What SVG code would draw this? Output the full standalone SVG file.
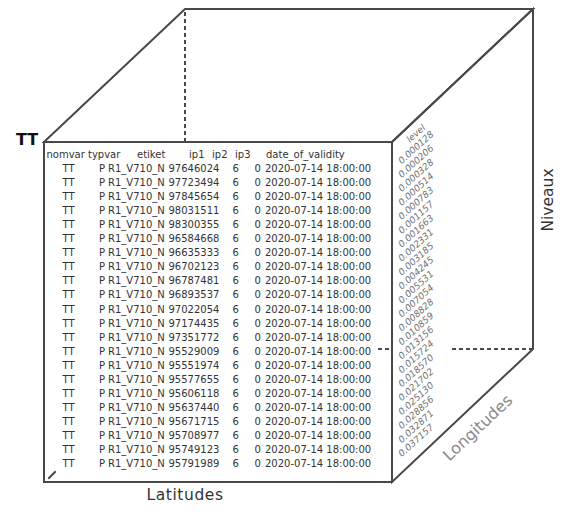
<svg xmlns="http://www.w3.org/2000/svg" width="576" height="515" viewBox="0 0 576 515">
<style>
.edge{fill:none;stroke:#484848;stroke-width:2;stroke-linecap:square}
.hid{fill:none;stroke:#484848;stroke-width:2;stroke-dasharray:4 3}
.tb{font-family:"DejaVu Sans",Verdana,sans-serif;font-size:10px;fill:#333}
.lv{font-family:"DejaVu Sans",Verdana,sans-serif;font-size:9.2px;font-style:italic;fill:#707070;text-anchor:middle}
.lab{font-family:"DejaVu Sans",Verdana,sans-serif}
</style>
<rect width="576" height="515" fill="#fff"/>
<g id="connectors">
<line class="hid" x1="185" y1="12" x2="185" y2="141"/>
<line class="hid" x1="378" y1="349" x2="391" y2="349"/>
<line class="hid" x1="452" y1="349" x2="532" y2="349"/>
<line class="edge" x1="49" y1="478" x2="55" y2="472"/>
</g>
<g id="cube">
<polygon points="44,142 185,9 533,9 392,142" fill="#fff" class="edge"/>
<polygon points="392,142 533,9 533,349 392,482" fill="none" class="edge"/>
<rect x="44" y="142" width="348" height="340" fill="none" class="edge"/>
</g>
<g id="label-tt"><text class="lab" x="16" y="145" style="font-size:16px;font-weight:bold;fill:#111">TT</text></g>
<g id="label-latitudes"><text class="lab" x="146.5" y="499.5" style="font-size:15.5px;fill:#333" textLength="76.5">Latitudes</text></g>
<g id="label-niveaux"><text class="lab" transform="translate(553,200) rotate(-90)" x="0" y="0" style="font-size:15.5px;fill:#333;text-anchor:middle">Niveaux</text></g>
<g id="label-longitudes"><text class="lab" transform="translate(478,428) rotate(-43)" x="0" y="5" style="font-size:16px;fill:#8a8a8a;text-anchor:middle">Longitudes</text></g>
<g id="table" class="tb">
<text y="158"><tspan x="46.5">nomvar</tspan><tspan x="88">typvar</tspan><tspan x="137">etiket</tspan><tspan x="189">ip1</tspan><tspan x="212">ip2</tspan><tspan x="235">ip3</tspan><tspan x="266">date_of_validity</tspan></text>
<text y="172"><tspan x="62.5">TT</tspan><tspan x="99">P</tspan><tspan x="108">R1_V710_N</tspan><tspan x="168.5">97646024</tspan><tspan x="232.5">6</tspan><tspan x="254.5">0</tspan><tspan x="265">2020-07-14 18:00:00</tspan></text>
<text y="186.05"><tspan x="62.5">TT</tspan><tspan x="99">P</tspan><tspan x="108">R1_V710_N</tspan><tspan x="168.5">97723494</tspan><tspan x="232.5">6</tspan><tspan x="254.5">0</tspan><tspan x="265">2020-07-14 18:00:00</tspan></text>
<text y="200.1"><tspan x="62.5">TT</tspan><tspan x="99">P</tspan><tspan x="108">R1_V710_N</tspan><tspan x="168.5">97845654</tspan><tspan x="232.5">6</tspan><tspan x="254.5">0</tspan><tspan x="265">2020-07-14 18:00:00</tspan></text>
<text y="214.15"><tspan x="62.5">TT</tspan><tspan x="99">P</tspan><tspan x="108">R1_V710_N</tspan><tspan x="168.5">98031511</tspan><tspan x="232.5">6</tspan><tspan x="254.5">0</tspan><tspan x="265">2020-07-14 18:00:00</tspan></text>
<text y="228.2"><tspan x="62.5">TT</tspan><tspan x="99">P</tspan><tspan x="108">R1_V710_N</tspan><tspan x="168.5">98300355</tspan><tspan x="232.5">6</tspan><tspan x="254.5">0</tspan><tspan x="265">2020-07-14 18:00:00</tspan></text>
<text y="242.25"><tspan x="62.5">TT</tspan><tspan x="99">P</tspan><tspan x="108">R1_V710_N</tspan><tspan x="168.5">96584668</tspan><tspan x="232.5">6</tspan><tspan x="254.5">0</tspan><tspan x="265">2020-07-14 18:00:00</tspan></text>
<text y="256.3"><tspan x="62.5">TT</tspan><tspan x="99">P</tspan><tspan x="108">R1_V710_N</tspan><tspan x="168.5">96635333</tspan><tspan x="232.5">6</tspan><tspan x="254.5">0</tspan><tspan x="265">2020-07-14 18:00:00</tspan></text>
<text y="270.35"><tspan x="62.5">TT</tspan><tspan x="99">P</tspan><tspan x="108">R1_V710_N</tspan><tspan x="168.5">96702123</tspan><tspan x="232.5">6</tspan><tspan x="254.5">0</tspan><tspan x="265">2020-07-14 18:00:00</tspan></text>
<text y="284.4"><tspan x="62.5">TT</tspan><tspan x="99">P</tspan><tspan x="108">R1_V710_N</tspan><tspan x="168.5">96787481</tspan><tspan x="232.5">6</tspan><tspan x="254.5">0</tspan><tspan x="265">2020-07-14 18:00:00</tspan></text>
<text y="298.45"><tspan x="62.5">TT</tspan><tspan x="99">P</tspan><tspan x="108">R1_V710_N</tspan><tspan x="168.5">96893537</tspan><tspan x="232.5">6</tspan><tspan x="254.5">0</tspan><tspan x="265">2020-07-14 18:00:00</tspan></text>
<text y="312.5"><tspan x="62.5">TT</tspan><tspan x="99">P</tspan><tspan x="108">R1_V710_N</tspan><tspan x="168.5">97022054</tspan><tspan x="232.5">6</tspan><tspan x="254.5">0</tspan><tspan x="265">2020-07-14 18:00:00</tspan></text>
<text y="326.55"><tspan x="62.5">TT</tspan><tspan x="99">P</tspan><tspan x="108">R1_V710_N</tspan><tspan x="168.5">97174435</tspan><tspan x="232.5">6</tspan><tspan x="254.5">0</tspan><tspan x="265">2020-07-14 18:00:00</tspan></text>
<text y="340.6"><tspan x="62.5">TT</tspan><tspan x="99">P</tspan><tspan x="108">R1_V710_N</tspan><tspan x="168.5">97351772</tspan><tspan x="232.5">6</tspan><tspan x="254.5">0</tspan><tspan x="265">2020-07-14 18:00:00</tspan></text>
<text y="354.65"><tspan x="62.5">TT</tspan><tspan x="99">P</tspan><tspan x="108">R1_V710_N</tspan><tspan x="168.5">95529009</tspan><tspan x="232.5">6</tspan><tspan x="254.5">0</tspan><tspan x="265">2020-07-14 18:00:00</tspan></text>
<text y="368.7"><tspan x="62.5">TT</tspan><tspan x="99">P</tspan><tspan x="108">R1_V710_N</tspan><tspan x="168.5">95551974</tspan><tspan x="232.5">6</tspan><tspan x="254.5">0</tspan><tspan x="265">2020-07-14 18:00:00</tspan></text>
<text y="382.75"><tspan x="62.5">TT</tspan><tspan x="99">P</tspan><tspan x="108">R1_V710_N</tspan><tspan x="168.5">95577655</tspan><tspan x="232.5">6</tspan><tspan x="254.5">0</tspan><tspan x="265">2020-07-14 18:00:00</tspan></text>
<text y="396.8"><tspan x="62.5">TT</tspan><tspan x="99">P</tspan><tspan x="108">R1_V710_N</tspan><tspan x="168.5">95606118</tspan><tspan x="232.5">6</tspan><tspan x="254.5">0</tspan><tspan x="265">2020-07-14 18:00:00</tspan></text>
<text y="410.85"><tspan x="62.5">TT</tspan><tspan x="99">P</tspan><tspan x="108">R1_V710_N</tspan><tspan x="168.5">95637440</tspan><tspan x="232.5">6</tspan><tspan x="254.5">0</tspan><tspan x="265">2020-07-14 18:00:00</tspan></text>
<text y="424.9"><tspan x="62.5">TT</tspan><tspan x="99">P</tspan><tspan x="108">R1_V710_N</tspan><tspan x="168.5">95671715</tspan><tspan x="232.5">6</tspan><tspan x="254.5">0</tspan><tspan x="265">2020-07-14 18:00:00</tspan></text>
<text y="438.95"><tspan x="62.5">TT</tspan><tspan x="99">P</tspan><tspan x="108">R1_V710_N</tspan><tspan x="168.5">95708977</tspan><tspan x="232.5">6</tspan><tspan x="254.5">0</tspan><tspan x="265">2020-07-14 18:00:00</tspan></text>
<text y="453"><tspan x="62.5">TT</tspan><tspan x="99">P</tspan><tspan x="108">R1_V710_N</tspan><tspan x="168.5">95749123</tspan><tspan x="232.5">6</tspan><tspan x="254.5">0</tspan><tspan x="265">2020-07-14 18:00:00</tspan></text>
<text y="467.05"><tspan x="62.5">TT</tspan><tspan x="99">P</tspan><tspan x="108">R1_V710_N</tspan><tspan x="168.5">95791989</tspan><tspan x="232.5">6</tspan><tspan x="254.5">0</tspan><tspan x="265">2020-07-14 18:00:00</tspan></text>
</g>
<g id="levels" class="lv">
<text transform="translate(416,133.5) rotate(-42)" y="3">level</text>
<text transform="translate(416,147.5) rotate(-42)" y="3">0.000128</text>
<text transform="translate(416,161.45) rotate(-42)" y="3">0.000206</text>
<text transform="translate(416,175.4) rotate(-42)" y="3">0.000328</text>
<text transform="translate(416,189.35) rotate(-42)" y="3">0.000514</text>
<text transform="translate(416,203.3) rotate(-42)" y="3">0.000783</text>
<text transform="translate(416,217.25) rotate(-42)" y="3">0.001157</text>
<text transform="translate(416,231.2) rotate(-42)" y="3">0.001663</text>
<text transform="translate(416,245.15) rotate(-42)" y="3">0.002331</text>
<text transform="translate(416,259.1) rotate(-42)" y="3">0.003185</text>
<text transform="translate(416,273.05) rotate(-42)" y="3">0.004245</text>
<text transform="translate(416,287) rotate(-42)" y="3">0.005531</text>
<text transform="translate(416,300.95) rotate(-42)" y="3">0.007054</text>
<text transform="translate(416,314.9) rotate(-42)" y="3">0.008828</text>
<text transform="translate(416,328.85) rotate(-42)" y="3">0.010859</text>
<text transform="translate(416,342.8) rotate(-42)" y="3">0.013156</text>
<text transform="translate(416,356.75) rotate(-42)" y="3">0.015724</text>
<text transform="translate(416,370.7) rotate(-42)" y="3">0.018570</text>
<text transform="translate(416,384.65) rotate(-42)" y="3">0.021702</text>
<text transform="translate(416,398.6) rotate(-42)" y="3">0.025130</text>
<text transform="translate(416,412.55) rotate(-42)" y="3">0.028856</text>
<text transform="translate(416,426.5) rotate(-42)" y="3">0.032871</text>
<text transform="translate(416,440.45) rotate(-42)" y="3">0.037157</text>
</g>
</svg>
